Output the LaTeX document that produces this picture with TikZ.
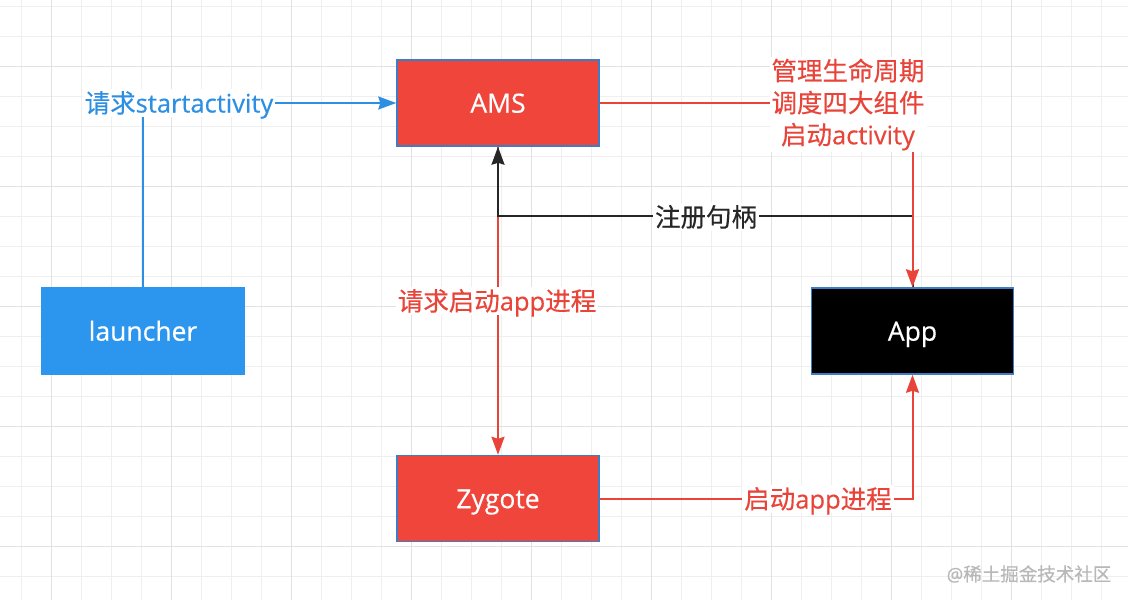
\documentclass[tikz,border=0pt]{standalone}
\usepackage{fontspec}
\setmainfont{Open Sans}[FakeBold=0.4]
\newfontfamily\cjkfont{Noto Sans CJK SC}[FakeBold=0.4]
\newcommand{\zhtext}[1]{{\cjkfont #1}}
\usetikzlibrary{arrows.meta}
\definecolor{redfill}{HTML}{F0453A}
\definecolor{bluefill}{HTML}{2C96EE}
\definecolor{boxborder}{HTML}{3D7DC6}
\definecolor{redline}{HTML}{E8443A}
\definecolor{blueline}{HTML}{2D8FE3}
\definecolor{darkline}{HTML}{262626}
\definecolor{gridminor}{HTML}{EFEFEF}
\definecolor{gridmajor}{HTML}{E2E2E2}
\definecolor{wmgray}{HTML}{B8B8B8}
\begin{document}
\begin{tikzpicture}[x=1pt,y=-1pt,
  box/.style={draw=boxborder, line width=1.5pt, minimum width=202pt, minimum height=86pt,
    inner sep=0pt, text=white, font=\fontsize{26.5}{30}\selectfont, text height=22pt, text depth=2.6pt},
  lbl/.style={fill=white, inner sep=2pt, font=\fontsize{25.5}{32}\selectfont, text height=21.5pt, text depth=2.5pt},
  lblm/.style={fill=white, inner sep=2pt, font=\fontsize{25.5}{32}\selectfont},
  conn/.style={line width=2pt, -{Stealth[length=18pt,width=13pt,inset=2pt]}},
  gminor/.style={gridminor, line width=1pt},
  gmajor/.style={gridmajor, line width=1.4pt}]

\useasboundingbox (0,0) rectangle (1128,600);
\fill[white] (0,0) rectangle (1128,600);
% grid
\foreach \x in {21.7,51.7,...,1128} \draw[gminor] (\x,0) -- (\x,600);
\foreach \y in {6.7,36.7,...,600} \draw[gminor] (0,\y) -- (1128,\y);
\foreach \x in {51.7,171.7,...,1128} \draw[gmajor] (\x,0) -- (\x,600);
\foreach \y in {66.7,186.7,...,600} \draw[gmajor] (0,\y) -- (1128,\y);

% nodes
\node[box, fill=bluefill, draw=bluefill] (launcher) at (143,331) {launcher};
\node[box, fill=redfill] (ams) at (498,103) {AMS};
\node[box, fill=black] (app) at (912.5,331) {App};
\node[box, fill=redfill] (zygote) at (498,498.5) {Zygote};

% connectors
\draw[conn, blueline] (launcher.north) |- (ams.west);
\draw[conn, redline] (ams.south) -- (zygote.north);
\draw[conn, darkline] (app.north) -- ++(0,-71) -| (ams.south);
\draw[conn, redline] (ams.east) -| (app.north);
\draw[conn, redline] (zygote.east) -| (app.south);

% labels
\node[lbl, text=blueline] (l1) at (179,103) {\zhtext{请求}startactivity};
\node[lblm, text=redline, align=center] (l2) at (848,104.5) {\zhtext{管理生命周期}\\\zhtext{调度四大组件}\\\zhtext{启动}activity};
\node[lbl, text=darkline] (l3) at (706,217) {\zhtext{注册句柄}};
\node[lbl, text=redline] (l4) at (497,301) {\zhtext{请求启动}app\zhtext{进程}};
\node[lbl, text=redline] (l5) at (818,499) {\zhtext{启动}app\zhtext{进程}};

% watermark
\node[text=wmgray, font=\fontsize{18.5}{19}\selectfont, inner sep=0pt] (wm) at (1029,574) {@\zhtext{稀土掘金技术社区}};
\end{tikzpicture}
\end{document}
